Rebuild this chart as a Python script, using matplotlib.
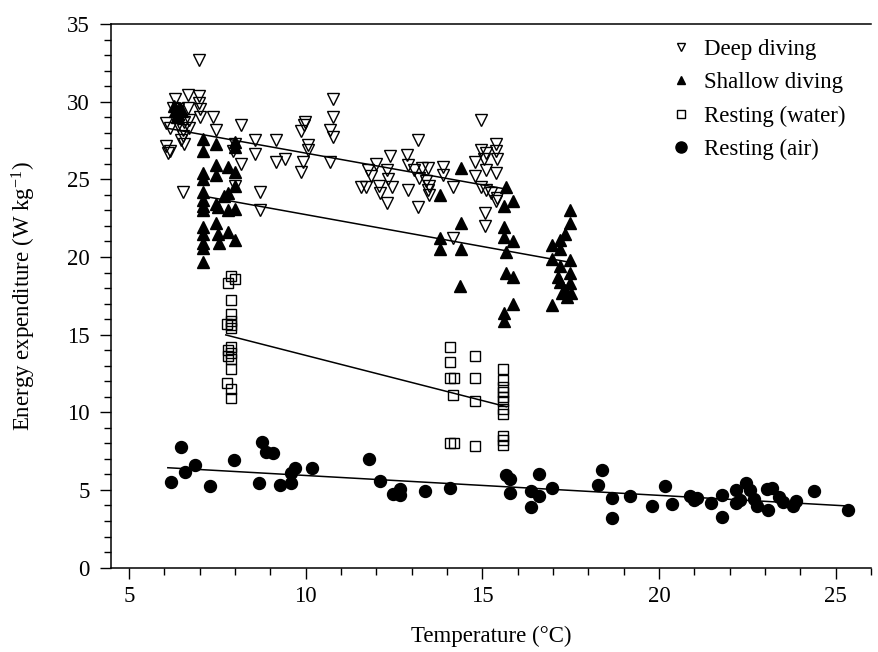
import matplotlib.pyplot as plt
from matplotlib.lines import Line2D
from matplotlib.ticker import MultipleLocator

plt.rcParams['font.family'] = ['Liberation Serif', 'DejaVu Serif']
plt.rcParams['mathtext.fontset'] = 'custom'
plt.rcParams['mathtext.rm'] = 'Liberation Serif'
plt.rcParams['mathtext.it'] = 'Liberation Serif:italic'

# energy expenditure (W/kg) against water/air temperature (deg C)
deep_t = [6.98, 6.29, 6.67, 6.98, 6.98, 6.24, 6.38, 6.67, 7.0, 7.0, 7.38, 6.06,
          6.15, 6.38, 6.57, 6.71, 6.53, 6.71, 7.47, 8.18, 6.06, 6.15, 6.10, 6.53,
          6.57, 6.48, 7.99, 7.95, 8.18, 8.56, 8.56, 9.17, 9.17, 9.41, 9.88, 9.97,
          9.95, 9.93, 9.88, 10.07, 10.07, 10.77, 10.77, 10.68, 10.77, 10.68, 6.53,
          7.99, 8.7, 8.7, 11.98, 11.76, 11.86, 12.29, 12.33, 12.43, 12.08, 11.57,
          11.7, 12.1, 12.29, 12.38, 12.88, 13.18, 12.9, 12.9, 13.18, 13.08, 13.2,
          13.3, 13.45, 13.4, 13.5, 13.45, 13.5, 13.89, 13.89, 14.18, 14.8, 14.8,
          14.97, 15.1, 15.05, 15.38, 15.38, 15.42, 15.1, 15.38, 14.97, 15.1, 15.25,
          15.42, 15.38, 15.07, 15.07, 14.18, 14.97]
deep_e = [32.7, 30.2, 30.4, 30.35, 29.9, 29.6, 29.5, 29.6, 29.5, 29.0, 29.0, 28.65,
          28.3, 28.5, 28.7, 28.8, 28.2, 28.3, 28.2, 28.5, 27.15, 26.8, 26.7, 27.8,
          27.3, 27.5, 27.3, 26.8, 26.0, 27.5, 26.6, 27.5, 26.1, 26.3, 28.1, 28.7,
          28.5, 26.1, 25.5, 27.2, 26.9, 30.2, 29.0, 28.2, 27.7, 26.1, 24.2,
          24.6, 24.2, 23.0, 26.0, 25.6, 25.2, 25.6, 25.0, 24.5, 24.6, 24.5,
          24.5, 24.1, 23.5, 26.5, 26.55, 27.5, 25.9, 24.3, 23.2, 25.6, 25.1,
          25.7, 25.7, 24.9, 24.6, 24.3, 24.0, 25.8, 25.3, 24.5, 26.1, 25.2,
          26.9, 26.7, 26.3, 27.3, 26.8, 26.3, 25.6, 25.4, 24.5, 24.3, 24.1,
          23.8, 23.6, 22.8, 22.0, 21.2, 28.8]

shallow_t = [6.3, 6.35, 6.45, 6.28, 6.4, 6.5, 7.09, 7.09, 7.47, 7.99, 7.99, 7.47,
             7.47, 7.80, 7.99, 7.09, 7.09, 7.09, 7.09, 7.09, 7.09, 7.80, 7.70, 7.99,
             7.47, 7.99, 7.52, 7.80, 7.09, 7.09, 7.47, 7.52, 7.80, 7.09, 7.09, 7.56,
             7.99, 7.09, 14.39, 13.79, 15.68, 15.87, 15.6, 14.39, 13.79, 13.79, 14.39,
             15.6, 15.6, 15.87, 15.68, 15.68, 15.87, 14.38, 15.87, 15.6, 15.6, 17.47,
             17.47, 17.33, 17.2, 16.96, 17.2, 16.96, 17.47, 17.2, 17.47, 17.15, 17.47,
             17.2, 17.33, 17.25, 17.52, 16.96, 17.4]
shallow_e = [29.4, 29.0, 29.6, 29.7, 29.2, 29.4, 27.6, 26.8, 27.3, 27.4, 27.1, 25.9,
             25.3, 25.8, 25.5, 25.4, 25.0, 24.2, 23.7, 23.3, 23.0, 24.1, 23.9, 24.6,
             23.4, 23.1, 23.2, 23.0, 21.95, 21.5, 22.2, 21.5, 21.6, 20.9, 20.6, 20.9,
             21.1, 19.7, 25.7, 24.0, 24.5, 23.6, 23.3, 22.2, 21.2, 20.5, 20.5,
             21.95, 21.3, 21.0, 20.3, 18.95, 18.7, 18.1, 17.0, 16.4, 15.9, 23.0,
             22.2, 21.5, 21.1, 20.8, 20.5, 19.9, 19.8, 19.4, 18.95, 18.7, 18.3,
             18.4, 17.9, 17.7, 17.7, 16.9, 17.4]

water_t = [7.90, 7.99, 7.80, 7.88, 7.88, 7.88, 7.77, 7.90, 7.88, 7.90, 7.80, 7.90,
           7.80, 7.90, 7.90, 7.77, 7.90, 7.90, 14.08, 14.08, 14.08, 14.2, 14.17,
           14.78, 14.78, 14.78, 15.59, 15.59, 15.59, 15.59, 15.59, 15.59, 15.59,
           15.59, 14.08, 14.2, 14.78, 15.59, 15.59, 15.59]
water_e = [18.8, 18.6, 18.3, 17.2, 16.3, 15.9, 15.7, 15.6, 15.4, 14.2, 14.0, 13.8,
           13.6, 13.4, 12.8, 11.9, 11.5, 10.9, 14.2, 13.26, 12.2, 12.2, 11.1,
           13.6, 12.2, 10.7, 12.8, 12.1, 11.6, 11.3, 11.0, 10.7, 10.2,
           9.9, 8.0, 8.0, 7.8, 8.5, 8.2, 7.9]

air_t = [6.18, 6.48, 6.59, 6.88, 7.28, 7.97, 8.69, 8.77, 8.87, 9.07, 9.27, 9.59,
         9.59, 9.69, 10.18, 11.78, 12.1, 12.47, 12.68, 12.68, 13.39, 14.08, 15.68,
         15.78, 15.78, 16.39, 16.39, 16.6, 16.6, 16.98, 18.39, 18.28, 18.68, 18.68,
         19.19, 19.79, 20.18, 20.38, 20.87, 21.0, 21.07, 21.48, 21.78, 21.78, 22.19,
         22.19, 22.3, 22.46, 22.58, 22.7, 22.78, 23.07, 23.2, 23.09, 23.4, 23.52,
         23.79, 23.89, 24.38, 25.35]
air_e = [5.51, 7.75, 6.14, 6.61, 5.25, 6.91, 5.47, 8.09, 7.46, 7.4, 5.32, 5.43,
         6.07, 6.39, 6.39, 7.01, 5.56, 4.74, 5.04, 4.65, 4.93, 5.1, 5.96,
         5.68, 4.82, 4.93, 3.88, 6.0, 4.61, 5.14, 6.28, 5.32, 4.5, 3.17,
         4.63, 3.99, 5.27, 4.09, 4.63, 4.35, 4.5, 4.14, 4.68, 3.24, 4.99,
         4.18, 4.35, 5.43, 4.99, 4.41, 3.96, 5.05, 5.1, 3.71, 4.52, 4.24,
         3.96, 4.29, 4.93, 3.7]

# fitted regression lines (end points)
deep_fit_t, deep_fit_e = [6.1, 15.6], [28.28, 24.40]
shallow_fit_t, shallow_fit_e = [7.1, 17.4], [23.92, 19.69]
water_fit_t, water_fit_e = [7.74, 15.68], [14.98, 10.36]
air_fit_t, air_fit_e = [6.1, 25.4], [6.43, 3.96]

fig = plt.figure(figsize=(8.79, 6.52), dpi=100)
ax = fig.add_axes([111.3 / 879, 1 - 567.6 / 652, (871 - 111.3) / 879, (567.6 - 24) / 652])

mk = dict(linestyle='none', color='black', markeredgewidth=1.0)
ax.plot(deep_t, deep_e, marker='v', ms=9.3, mfc='none', **mk)
ax.plot(shallow_t, shallow_e, marker='^', ms=8.8, mfc='black', **mk)
ax.plot(water_t, water_e, marker='s', ms=6.6, mfc='none', **mk)
ax.plot(air_t, air_e, marker='o', ms=8.6, mfc='black', **mk)

for fx, fy in [(deep_fit_t, deep_fit_e), (shallow_fit_t, shallow_fit_e),
               (water_fit_t, water_fit_e), (air_fit_t, air_fit_e)]:
    ax.plot(fx, fy, color='black', lw=1.1, zorder=3)

ax.set_xlim(4.5, 26)
ax.set_ylim(0, 35)
ax.xaxis.set_major_locator(MultipleLocator(5))
ax.xaxis.set_minor_locator(MultipleLocator(1))
ax.yaxis.set_major_locator(MultipleLocator(5))
ax.yaxis.set_minor_locator(MultipleLocator(1))
ax.tick_params(which='both', direction='out', width=1.0, labelsize=16.5)
ax.tick_params(which='major', length=8)
ax.tick_params(which='minor', length=4.8)
ax.tick_params(axis='x', pad=5)
ax.tick_params(axis='y', pad=7.5)
ax.spines['right'].set_visible(False)
for s in ['left', 'bottom', 'top']:
    ax.spines[s].set_linewidth(1.1)

ax.set_xlabel('Temperature (°C)', fontsize=16.5)
ax.set_ylabel(r'Energy expenditure (W kg$^{\mathrm{-1}}$)', fontsize=16.5)
ax.xaxis.set_label_coords(0.5, -0.107)
ax.yaxis.set_label_coords(-0.097, 0.5)

handles = [
    Line2D([], [], marker='v', ms=5.6, mfc='none', **mk),
    Line2D([], [], marker='^', ms=5.6, mfc='black', **mk),
    Line2D([], [], marker='s', ms=5.4, mfc='none', **mk),
    Line2D([], [], marker='o', ms=8.0, mfc='black', **mk),
]
labels = ['Deep diving', 'Shallow diving', 'Resting (water)', 'Resting (air)']
ax.legend(handles, labels, loc='upper left', bbox_to_anchor=(658 / 879, 1 - 28 / 652),
          bbox_transform=fig.transFigure, frameon=False, fontsize=16.5,
          borderpad=0, handlelength=1.0, handletextpad=0.5, labelspacing=0.52,
          numpoints=1)

fig.savefig('out.png', dpi=100)
